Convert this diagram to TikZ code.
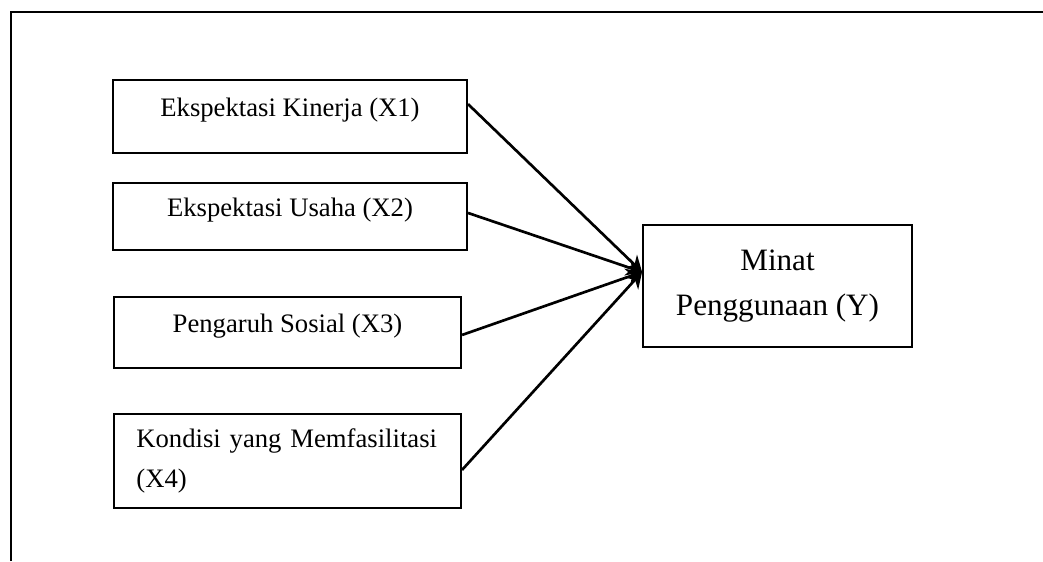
\documentclass[tikz,border=0pt]{standalone}
\usepackage{fontspec}
\setmainfont{Liberation Serif}
\usetikzlibrary{arrows.meta}

\tikzset{
	varbox/.style={draw, line width=0.9pt, minimum width=#1, minimum height=32pt,
		inner sep=0pt, font=\fontsize{12}{18}\selectfont, text height=1.6ex, text depth=1.6ex},
	link/.style={line width=1.2pt, -{Stealth[length=7pt,width=8pt]}}
}

\begin{document}
\begin{tikzpicture}[x=0.45pt,y=-0.45pt]
	\useasboundingbox (0,0) rectangle (1043,561);
	\draw[line width=0.9pt] (11,561) -- (11,12) -- (1043,12);
	
	\node[varbox=159.3pt, minimum height=32.9pt] (x1) at (290,116.5) {Ekspektasi Kinerja (X1)};
	\node[varbox=159.3pt, minimum height=30.2pt] (x2) at (290,216.5) {Ekspektasi Usaha (X2)};
	\node[varbox=156.2pt, minimum height=32pt] (x3) at (287.5,332.5) {Pengaruh Sosial (X3)};
	\node[draw, line width=0.9pt, minimum width=156.2pt, minimum height=42.3pt,
		text width=136pt, inner xsep=10.1pt, inner ysep=0pt, align=left,
		font=\fontsize{12}{18}\selectfont] (x4) at (287.5,461) {Kondisi yang Memfasilitasi\\(X4)};
	
	\node[draw, line width=0.9pt, minimum width=121pt, minimum height=55pt, inner sep=0pt,
		align=center, font=\fontsize{14}{20.25}\selectfont] (y) at (777.5,286) {Minat\\Penggunaan (Y)};
	\coordinate (tip) at ([yshift=6.3pt]y.west);
	
	\draw[link] ([yshift=5.6pt]x1.east) -- (tip);
	\draw[link] ([yshift=1.6pt]x2.east) -- (tip);
	\draw[link] ([yshift=-1.1pt]x3.east) -- (tip);
	\draw[link] ([yshift=-4pt]x4.east) -- (tip);
\end{tikzpicture}
\end{document}
